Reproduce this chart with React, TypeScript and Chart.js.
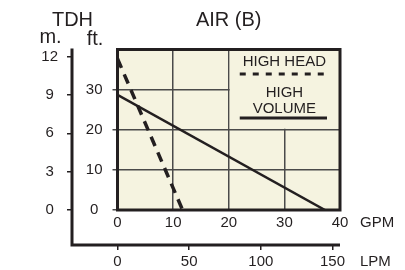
import React, { useEffect, useRef } from "react";
import { Chart, registerables } from "chart.js";

Chart.register(...registerables);

// ---- data ----
const highHeadGpm = [0, 11.7];
const highHeadFt = [37.7, 0];
const highVolumeGpm = [0, 37.3];
const highVolumeFt = [28.7, 0];

const gpmTicks = [0, 10, 20, 30, 40];
const ftTicks = [0, 10, 20, 30];
const mTicks = [0, 3, 6, 9, 12];
const lpmTicks = [0, 50, 100, 150];

const gpmRange = [0, 40];
const ftRange = [0, 40];
const mRange = [0, 12.56];
const lpmRange = [0, 155.2];

const legendBoxGpm = 20; // legend box occupies GPM >= 20
const legendBoxFt = 20; // and ft >= 20

const title = "AIR (B)";
const yTitle = "TDH";
const mUnit = "m.";
const ftUnit = "ft.";
const gpmUnit = "GPM";
const lpmUnit = "LPM";
const legendHead = "HIGH HEAD";
const legendVol1 = "HIGH";
const legendVol2 = "VOLUME";

const INK = "#231f20";
const GRID = "#4a4a4a";
const BG = "#f5f3e0";
const FONT = "'Liberation Sans', Arial, Helvetica, sans-serif";

const decor = {
  id: "decor",
  beforeDraw(chart: any) {
    const { ctx, chartArea: a } = chart;
    ctx.save();
    ctx.fillStyle = BG;
    ctx.fillRect(a.left, a.top, a.right - a.left, a.bottom - a.top);
    ctx.restore();
  },
  afterDraw(chart: any) {
    const { ctx, chartArea: a, scales } = chart;
    const x = scales.x;
    const y = scales.y;
    const x2 = scales.x2;
    const y2 = scales.y2;
    ctx.save();

    // legend box (covers the grid in the upper right cells)
    const lx = x.getPixelForValue(legendBoxGpm);
    const ly = y.getPixelForValue(legendBoxFt);
    ctx.fillStyle = BG;
    ctx.fillRect(lx + 1, a.top, a.right - lx - 1, ly - a.top - 1);

    const cx = (lx + a.right) / 2;
    ctx.fillStyle = INK;
    ctx.font = `15px ${FONT}`;
    ctx.textAlign = "center";
    ctx.textBaseline = "alphabetic";
    ctx.fillText(legendHead, cx, 66);
    ctx.fillText(legendVol1, cx, 97);
    ctx.fillText(legendVol2, cx, 113);

    ctx.strokeStyle = INK;
    ctx.lineWidth = 3;
    ctx.setLineDash([6, 7]);
    ctx.beginPath();
    ctx.moveTo(lx + 11, 74);
    ctx.lineTo(a.right - 13, 74);
    ctx.stroke();
    ctx.setLineDash([]);
    ctx.beginPath();
    ctx.moveTo(lx + 11, 118);
    ctx.lineTo(a.right - 13, 118);
    ctx.stroke();

    // plot border
    ctx.lineWidth = 3;
    ctx.strokeRect(a.left, a.top, a.right - a.left, a.bottom - a.top);

    // outer L axis (m / LPM)
    ctx.beginPath();
    ctx.moveTo(y2.right, a.top - 1);
    ctx.lineTo(y2.right, x2.top);
    ctx.lineTo(x2.right, x2.top);
    ctx.stroke();

    // titles
    ctx.fillStyle = INK;
    ctx.font = `20px ${FONT}`;
    ctx.textAlign = "center";
    ctx.fillText(yTitle, 72.5, 26);
    ctx.fillText(mUnit, 50.5, 43);
    ctx.fillText(ftUnit, 95, 45);
    ctx.fillText(title, (a.left + a.right) / 2, 26);

    ctx.font = `15px ${FONT}`;
    ctx.textAlign = "left";
    ctx.textBaseline = "middle";
    ctx.fillText(gpmUnit, a.right + 20, x.top + 13);
    ctx.fillText(lpmUnit, a.right + 20, x2.top + 17);
    ctx.restore();
  },
};

const toPoints = (xs: number[], ys: number[]) => xs.map((v, i) => ({ x: v, y: ys[i] }));

export default function App() {
  const ref = useRef<HTMLCanvasElement | null>(null);
  useEffect(() => {
    document.body.style.margin = "0";
    const canvas = ref.current;
    if (!canvas) return;
    Chart.defaults.font.family = FONT;
    Chart.defaults.color = INK;
    const tickFont = { size: 15, family: FONT };
    const chart = new Chart(canvas, {
      type: "line",
      data: {
        datasets: [
          {
            label: legendHead,
            data: toPoints(highHeadGpm, highHeadFt),
            borderColor: INK,
            borderWidth: 3.5,
            borderDash: [10, 7],
            pointRadius: 0,
            fill: false,
            tension: 0,
            xAxisID: "x",
            yAxisID: "y",
          },
          {
            label: legendVol1 + " " + legendVol2,
            data: toPoints(highVolumeGpm, highVolumeFt),
            borderColor: INK,
            borderWidth: 2.5,
            pointRadius: 0,
            fill: false,
            tension: 0,
            xAxisID: "x",
            yAxisID: "y",
          },
        ],
      },
      options: {
        animation: false,
        responsive: false,
        devicePixelRatio: 1,
        layout: { padding: { left: 0, right: 65, top: 49.5, bottom: 0 } },
        plugins: { legend: { display: false }, tooltip: { enabled: false } },
        scales: {
          x: {
            type: "linear",
            position: "bottom",
            weight: 0,
            min: gpmRange[0],
            max: gpmRange[1],
            afterBuildTicks: (s: any) => {
              s.ticks = gpmTicks.map((v) => ({ value: v }));
            },
            afterFit: (s: any) => {
              s.height = 35;
            },
            grid: { color: GRID, lineWidth: 1.5, drawTicks: false },
            border: { display: false },
            ticks: { font: tickFont, color: INK, padding: 3.5, maxRotation: 0 },
          },
          x2: {
            type: "linear",
            position: "bottom",
            weight: 1,
            min: lpmRange[0],
            max: lpmRange[1],
            afterBuildTicks: (s: any) => {
              s.ticks = lpmTicks.map((v) => ({ value: v }));
            },
            afterFit: (s: any) => {
              s.height = 25;
            },
            grid: { drawOnChartArea: false, drawTicks: true, tickLength: 5, color: INK, lineWidth: 1.5 },
            border: { display: false },
            ticks: { font: tickFont, color: INK, padding: 3, maxRotation: 0 },
          },
          y: {
            type: "linear",
            position: "left",
            weight: 0,
            min: ftRange[0],
            max: ftRange[1],
            afterBuildTicks: (s: any) => {
              s.ticks = ftTicks.map((v) => ({ value: v }));
            },
            afterFit: (s: any) => {
              s.width = 45.5;
            },
            grid: { color: GRID, lineWidth: 1.5, drawTicks: true, tickLength: 5 },
            border: { display: false },
            ticks: { font: tickFont, color: INK, padding: 10, crossAlign: "center" },
          },
          y2: {
            type: "linear",
            position: "left",
            weight: 1,
            min: mRange[0],
            max: mRange[1],
            afterBuildTicks: (s: any) => {
              s.ticks = mTicks.map((v) => ({ value: v }));
            },
            afterFit: (s: any) => {
              s.width = 72;
            },
            grid: { drawOnChartArea: false, drawTicks: true, tickLength: 5, color: INK, lineWidth: 1.5 },
            border: { display: false },
            ticks: { font: tickFont, color: INK, padding: 9, crossAlign: "center" },
          },
        },
      },
      plugins: [decor],
    } as any);
    return () => chart.destroy();
  }, []);
  return <canvas ref={ref} width={405} height={270} style={{ display: "block", width: 405, height: 270 }} />;
}
